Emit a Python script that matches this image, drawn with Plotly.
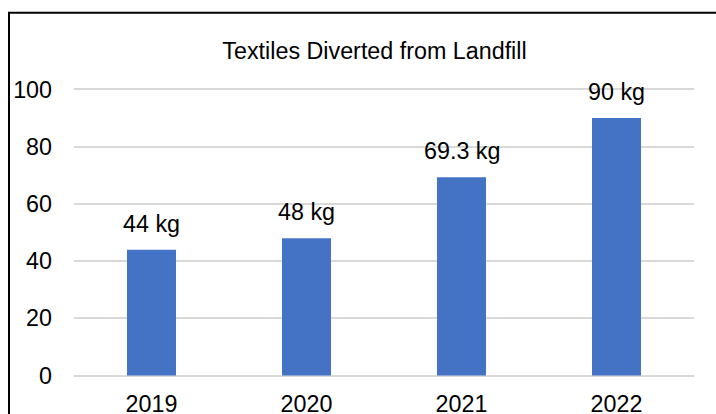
import plotly.graph_objects as go

years = ["2019", "2020", "2021", "2022"]
values = [44, 48, 69.3, 90]
labels = ["44 kg", "48 kg", "69.3 kg", "90 kg"]
y_ticks = [0, 20, 40, 60, 80, 100]

W, H = 716, 414
ml, mr, mt, mb = 74, 22, 87.5, 36.5
pw, ph = W - ml - mr, H - mt - mb
y_lo, y_hi = -0.5, 100.5
FS = 23.3

fig = go.Figure()
fig.add_trace(go.Bar(x=years, y=values, marker=dict(color="#4472C4", line=dict(width=0)),
                     hoverinfo="skip"))

for i, (v, t) in enumerate(zip(values, labels)):
    fig.add_annotation(x=i, y=v, text=t, showarrow=False, yanchor="bottom", yshift=11,
                       font=dict(family="Liberation Sans, Arial", size=FS, color="#000000"))

fig.add_shape(type="rect", xref="paper", yref="paper",
              x0=(9 - ml) / pw, x1=(W + 60 - ml) / pw,
              y0=-(60 + mb) / ph, y1=((H - mb) - 12) / ph,
              line=dict(color="#000000", width=2), fillcolor="rgba(0,0,0,0)", layer="above")

fig.update_layout(
    width=W, height=H,
    margin=dict(l=ml, r=mr, t=mt, b=mb, pad=0, autoexpand=False),
    paper_bgcolor="white", plot_bgcolor="white",
    bargap=0.684,
    showlegend=False,
    font=dict(family="Liberation Sans, Arial", size=FS, color="#000000"),
    title=dict(text="Textiles Diverted from Landfill", x=374.5 / W, xref="container", xanchor="center",
               y=1 - 51 / H, yref="container", yanchor="middle",
               font=dict(family="Liberation Sans, Arial", size=FS, color="#000000")),
    xaxis=dict(type="category", range=[-0.5, len(years) - 0.5], showgrid=False, showline=False,
               zeroline=False, ticks="", tickfont=dict(size=FS), ticklabelstandoff=11, automargin=False),
    yaxis=dict(range=[y_lo, y_hi], tickvals=y_ticks, showgrid=True, gridcolor="#D9D9D9", gridwidth=1.5,
               zeroline=False, showline=False, ticks="", tickfont=dict(size=FS),
               ticklabelstandoff=21, automargin=False),
)

fig.write_html("out.html")
